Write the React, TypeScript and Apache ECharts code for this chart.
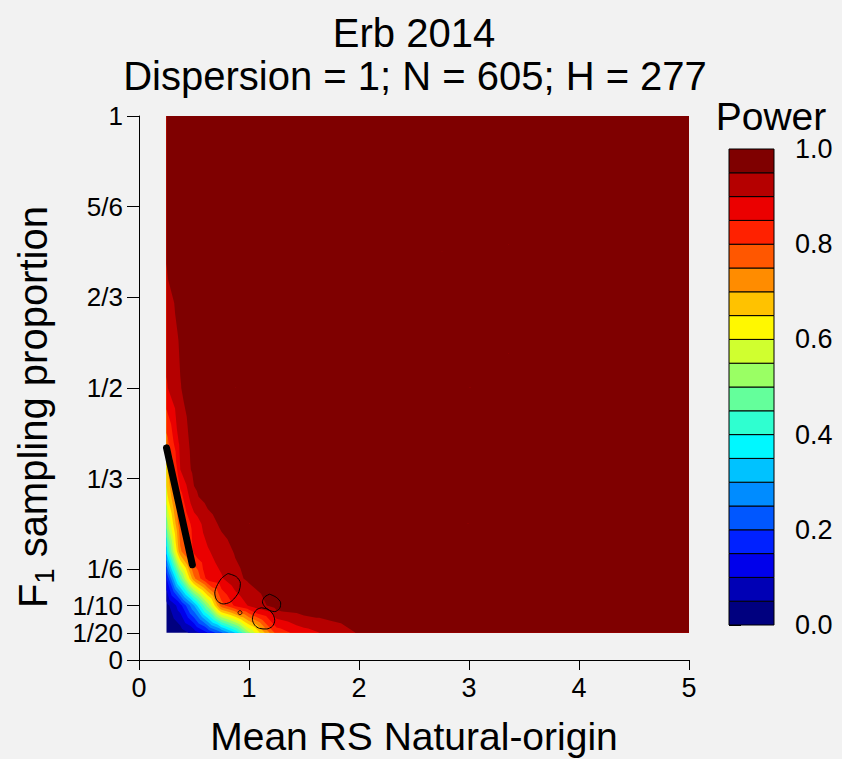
import React, { useEffect, useRef } from "react";
import * as echarts from "echarts";

// ---- grid of estimated power values ----
const xs = [0.25, 0.375, 0.5, 0.625, 0.75, 0.875, 1, 1.25, 1.5, 1.75, 2, 2.5, 3, 4, 5];
const ys = [0.05, 0.1, 0.15, 0.2, 0.25, 0.3, 0.35, 0.4, 0.5, 0.6, 0.7, 0.8, 1];

const row005 = [0.0, 0.02, 0.07, 0.15, 0.24, 0.35, 0.54, 0.82, 0.88, 0.915, 0.955, 0.975, 0.985, 0.99, 0.995];
const row010 = [0.03, 0.13, 0.3, 0.52, 0.78, 0.86, 0.905, 0.975, 0.99, 0.995, 0.997, 0.998, 0.998, 0.999, 0.999];
const row015 = [0.15, 0.46, 0.74, 0.87, 0.895, 0.935, 0.96, 0.985, 0.995, 0.998, 0.998, 0.999, 0.999, 0.999, 0.999];
const row020 = [0.37, 0.74, 0.86, 0.895, 0.925, 0.955, 0.97, 0.99, 0.995, 0.998, 0.999, 0.999, 0.999, 0.999, 0.999];
const row025 = [0.52, 0.79, 0.87, 0.925, 0.96, 0.975, 0.985, 0.995, 0.998, 0.999, 0.999, 0.999, 0.999, 0.999, 0.999];
const row030 = [0.63, 0.83, 0.94, 0.97, 0.985, 0.99, 0.993, 0.997, 0.999, 0.999, 0.999, 0.999, 0.999, 0.999, 0.999];
const row035 = [0.68, 0.9, 0.965, 0.98, 0.99, 0.993, 0.995, 0.998, 0.999, 0.999, 0.999, 0.999, 0.999, 0.999, 0.999];
const row040 = [0.78, 0.915, 0.97, 0.98, 0.99, 0.993, 0.996, 0.998, 0.999, 0.999, 0.999, 0.999, 0.999, 0.999, 0.999];
const row050 = [0.895, 0.948, 0.975, 0.985, 0.99, 0.995, 0.997, 0.998, 0.999, 0.999, 0.999, 0.999, 0.999, 0.999, 0.999];
const row060 = [0.92, 0.957, 0.978, 0.987, 0.992, 0.995, 0.997, 0.998, 0.999, 0.999, 0.999, 0.999, 0.999, 0.999, 0.999];
const row070 = [0.948, 0.966, 0.982, 0.99, 0.994, 0.996, 0.997, 0.998, 0.999, 0.999, 0.999, 0.999, 0.999, 0.999, 0.999];
const row080 = [0.955, 0.975, 0.986, 0.992, 0.995, 0.996, 0.997, 0.998, 0.999, 0.999, 0.999, 0.999, 0.999, 0.999, 0.999];
const row100 = [0.965, 0.98, 0.99, 0.995, 0.997, 0.998, 0.998, 0.999, 0.999, 0.999, 0.999, 0.999, 0.999, 0.999, 0.999];
const powerRows = [row005, row010, row015, row020, row025, row030, row035, row040, row050, row060, row070, row080, row100];

// ---- colour levels ----
const levelBreaks = [0, 0.05, 0.1, 0.15, 0.2, 0.25, 0.3, 0.35, 0.4, 0.45, 0.5, 0.55, 0.6, 0.65, 0.7, 0.75, 0.8, 0.85, 0.9, 0.95, 1.0];
const levelColors = [
  "#00007F", "#0000B5", "#0000EB", "#0021FF", "#0057FF", "#008CFF", "#00C2FF", "#00F8FF", "#2FFFD0", "#64FF9B",
  "#9AFF64", "#D0FF2F", "#FFF800", "#FFC200", "#FF8C00", "#FF5700", "#FF2100", "#EB0000", "#B50000", "#7F0000",
];

// ---- axis ticks ----
const yTickValues = [0, 0.05, 0.1, 1 / 6, 1 / 3, 0.5, 2 / 3, 5 / 6, 1];
const yTickLabels = ["0", "1/20", "1/10", "1/6", "1/3", "1/2", "2/3", "5/6", "1"];

// ---- overlay lines ----
const thickLine = [[0.25, 0.39], [0.485, 0.175]];
const ringA = [[0.809, 0.159], [0.885, 0.153], [0.922, 0.141], [0.909, 0.126], [0.87, 0.114], [0.825, 0.106], [0.765, 0.103], [0.71, 0.109], [0.689, 0.123], [0.705, 0.135], [0.75, 0.15], [0.809, 0.159]];
const ringB = [[1.188, 0.121], [1.249, 0.115], [1.288, 0.105], [1.279, 0.095], [1.234, 0.089], [1.188, 0.091], [1.143, 0.098], [1.122, 0.107], [1.143, 0.116], [1.188, 0.121]];
const ringC = [[1.113, 0.096], [1.173, 0.093], [1.218, 0.084], [1.234, 0.073], [1.213, 0.062], [1.158, 0.057], [1.097, 0.058], [1.052, 0.064], [1.031, 0.075], [1.045, 0.086], [1.073, 0.093], [1.113, 0.096]];
const dotPoint = [[0.918, 0.087]];

const FONT = "'Liberation Sans', Arial, sans-serif";

type P = [number, number, number];

function clipAbove(poly: P[], level: number): P[] {
  const out: P[] = [];
  const n = poly.length;
  for (let i = 0; i < n; i++) {
    const a = poly[i];
    const b = poly[(i + 1) % n];
    const ain = a[2] >= level;
    const bin = b[2] >= level;
    if (ain) out.push(a);
    if (ain !== bin) {
      const t = (level - a[2]) / (b[2] - a[2]);
      out.push([a[0] + t * (b[0] - a[0]), a[1] + t * (b[1] - a[1]), level]);
    }
  }
  return out;
}

export default function App() {
  const ref = useRef<HTMLDivElement>(null);

  useEffect(() => {
    if (!ref.current) return;
    const chart = echarts.init(ref.current, undefined, { renderer: "svg" });

    // one item per colour level: region where power >= lower break
    const levelData = levelColors.map((_, k) => [k, levelBreaks[k]]);
    const bandData = levelColors.map((_, k) => [0, levelBreaks[k], 1, levelBreaks[k + 1], k]);

    const renderLevel = (params: any, api: any) => {
      const k = api.value(0);
      const lo = levelBreaks[k];
      let d = "";
      for (let j = 0; j < ys.length - 1; j++) {
        for (let i = 0; i < xs.length - 1; i++) {
          const vBL = powerRows[j][i];
          const vBR = powerRows[j][i + 1];
          const vTR = powerRows[j + 1][i + 1];
          const vTL = powerRows[j + 1][i];
          const bl = api.coord([xs[i], ys[j]]);
          const br = api.coord([xs[i + 1], ys[j]]);
          const tr = api.coord([xs[i + 1], ys[j + 1]]);
          const tl = api.coord([xs[i], ys[j + 1]]);
          const c: P = [(bl[0] + tr[0]) / 2, (bl[1] + tr[1]) / 2, (vBL + vBR + vTR + vTL) / 4];
          const pBL: P = [bl[0], bl[1], vBL];
          const pBR: P = [br[0], br[1], vBR];
          const pTR: P = [tr[0], tr[1], vTR];
          const pTL: P = [tl[0], tl[1], vTL];
          const tris: P[][] = [[pBL, pBR, c], [pBR, pTR, c], [pTR, pTL, c], [pTL, pBL, c]];
          for (const tri of tris) {
            const vmax = Math.max(tri[0][2], tri[1][2], tri[2][2]);
            if (vmax < lo) continue;
            const poly = clipAbove(tri, lo);
            if (poly.length < 3) continue;
            d += "M" + poly.map((p) => p[0].toFixed(2) + " " + p[1].toFixed(2)).join("L") + "Z";
          }
        }
      }
      return { type: "path", shape: { pathData: d }, style: { fill: levelColors[k] } };
    };

    const renderBand = (params: any, api: any) => {
      const a = api.coord([0, api.value(1)]);
      const b = api.coord([1, api.value(3)]);
      const k = api.value(4);
      return {
        type: "rect",
        shape: { x: a[0], y: b[1], width: b[0] - a[0], height: a[1] - b[1] },
        style: { fill: levelColors[k], stroke: "#000", lineWidth: 1 },
      };
    };

    const ringStyle = { color: "#000", width: 1 };

    chart.setOption({
      animation: false,
      backgroundColor: "#f2f2f2",
      textStyle: { fontFamily: FONT },
      grid: [
        { left: 139, top: 116, width: 550, height: 544 },
        { left: 729, top: 149, width: 45, height: 476 },
      ],
      xAxis: [
        {
          type: "value",
          gridIndex: 0,
          min: 0,
          max: 5,
          interval: 1,
          splitLine: { show: false },
          axisLine: { show: true, lineStyle: { color: "#000", width: 1 } },
          axisTick: { show: true, length: 10, lineStyle: { color: "#000" } },
          axisLabel: { color: "#000", fontSize: 27, margin: 14, fontFamily: FONT },
        },
        { type: "value", gridIndex: 1, min: 0, max: 1, show: false },
      ],
      yAxis: [
        {
          type: "value",
          gridIndex: 0,
          min: 0,
          max: 1,
          splitLine: { show: false },
          axisLine: { show: true, lineStyle: { color: "#000", width: 1 } },
          axisTick: { show: true, length: 12, customValues: yTickValues, lineStyle: { color: "#000" } },
          axisLabel: {
            color: "#000",
            fontSize: 26,
            margin: 16,
            fontFamily: FONT,
            customValues: yTickValues,
            formatter: (v: number) => {
              let best = 0;
              for (let i = 1; i < yTickValues.length; i++) {
                if (Math.abs(yTickValues[i] - v) < Math.abs(yTickValues[best] - v)) best = i;
              }
              return yTickLabels[best];
            },
          },
        },
        {
          type: "value",
          gridIndex: 1,
          min: 0,
          max: 1,
          interval: 0.2,
          position: "right",
          splitLine: { show: false },
          axisLine: { show: false },
          axisTick: { show: true, length: 12, lineStyle: { color: "#000" } },
          axisLabel: {
            color: "#000",
            fontSize: 27,
            lineHeight: 26,
            margin: 21,
            fontFamily: FONT,
            formatter: (v: number) => v.toFixed(1),
          },
        },
      ],
      series: [
        {
          type: "custom",
          xAxisIndex: 0,
          yAxisIndex: 0,
          renderItem: renderLevel,
          data: levelData,
          encode: { x: -1, y: -1 },
          silent: true,
          z: 1,
        },
        {
          type: "line",
          data: thickLine,
          symbol: "none",
          lineStyle: { color: "#000", width: 7, cap: "round" },
          z: 5,
          silent: true,
        },
        { type: "line", data: ringA, symbol: "none", smooth: 0.3, lineStyle: ringStyle, z: 5, silent: true },
        { type: "line", data: ringB, symbol: "none", smooth: 0.3, lineStyle: ringStyle, z: 5, silent: true },
        { type: "line", data: ringC, symbol: "none", smooth: 0.3, lineStyle: ringStyle, z: 5, silent: true },
        {
          type: "scatter",
          data: dotPoint,
          symbol: "circle",
          symbolSize: 4,
          itemStyle: { color: "rgba(0,0,0,0)", borderColor: "#000", borderWidth: 1 },
          z: 5,
          silent: true,
        },
        {
          type: "custom",
          xAxisIndex: 1,
          yAxisIndex: 1,
          renderItem: renderBand,
          data: bandData,
          encode: { x: [0, 2], y: [1, 3] },
          silent: true,
        },
      ],
      graphic: [
        {
          type: "text",
          x: 414,
          y: 33,
          style: { text: "Erb 2014", fontSize: 40, fill: "#000", fontFamily: FONT, align: "center", verticalAlign: "middle" },
        },
        {
          type: "text",
          x: 415,
          y: 76,
          style: {
            text: "Dispersion = 1; N = 605; H = 277",
            fontSize: 40,
            fill: "#000",
            fontFamily: FONT,
            align: "center",
            verticalAlign: "middle",
          },
        },
        {
          type: "text",
          x: 414,
          y: 736,
          style: {
            text: "Mean RS Natural-origin",
            fontSize: 39,
            lineHeight: 40,
            fill: "#000",
            fontFamily: FONT,
            align: "center",
            verticalAlign: "middle",
          },
        },
        {
          type: "text",
          x: 33,
          y: 407,
          rotation: Math.PI / 2,
          style: {
            text: "F{sub|1} sampling proportion",
            fontSize: 40,
            fill: "#000",
            fontFamily: FONT,
            align: "center",
            verticalAlign: "middle",
            rich: {
              sub: { fontSize: 27, fill: "#000", fontFamily: FONT, padding: [23, 0, 0, 0] },
            },
          },
        },
        {
          type: "text",
          x: 771,
          y: 116,
          style: {
            text: "Power",
            fontSize: 39,
            lineHeight: 28,
            fill: "#000",
            fontFamily: FONT,
            align: "center",
            verticalAlign: "middle",
          },
        },
      ],
    });

    return () => chart.dispose();
  }, []);

  return (
    <div
      ref={ref}
      style={{ position: "absolute", left: 0, top: 0, width: 842, height: 759, background: "#f2f2f2" }}
    />
  );
}
